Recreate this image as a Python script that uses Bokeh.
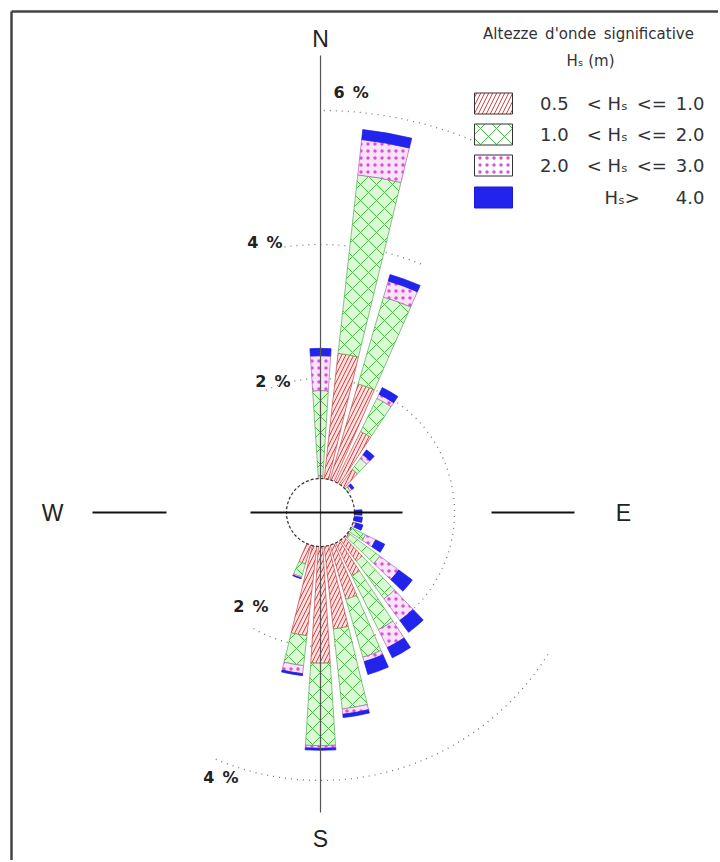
import numpy as np
from bokeh.plotting import figure
from bokeh.models import Range1d, ColumnDataSource
from bokeh.core.properties import value
from bokeh.embed import file_html
from bokeh.resources import INLINE

# ---------------- data (percent of occurrences per direction sector) ----------------
directions = [0, 10, 20, 30, 40, 50, 60, 70, 80, 90, 100, 110, 120, 130, 140, 150, 160, 170, 180, 190, 200]
hs_05_10 = [0.55, 2.39, 2.00, 1.35, 0.80, 0.45, 0.35, 0.30, 0.30, 0.40, 0.40, 0.45, 0.50, 0.55, 0.90, 1.05, 1.35, 1.75, 2.25, 1.85, 0.80]
hs_10_20 = [1.27, 2.68, 1.35, 0.55, 0.20, 0.10, 0.05, 0.05, 0.05, 0.05, 0.05, 0.05, 0.25, 0.55, 0.70, 0.90, 0.90, 1.20, 1.23, 0.45, 0.20]
hs_20_30 = [0.52, 0.53, 0.25, 0.07, 0.07, 0.03, 0.02, 0.02, 0.03, 0.05, 0.05, 0.05, 0.17, 0.35, 0.40, 0.30, 0.07, 0.08, 0.04, 0.12, 0.02]
hs_gt_30 = [0.11, 0.15, 0.10, 0.11, 0.09, 0.04, 0.03, 0.03, 0.04, 0.12, 0.13, 0.11, 0.15, 0.25, 0.22, 0.17, 0.20, 0.05, 0.03, 0.03, 0.01]

SP = "\u2002"
class_labels = ["0.5" + SP + SP + "< Hₛ" + SP + "<=" + SP + "1.0",
                "1.0" + SP + SP + "< Hₛ" + SP + "<=" + SP + "2.0",
                "2.0" + SP + SP + "< Hₛ" + SP + "<=" + SP + "3.0",
                "Hₛ>" + SP * 4 + "4.0"]
legend_title = "Altezze" + SP + "d'onde" + SP + "significative"
legend_unit = "Hₛ (m)"
ring_labels = ["2 %", "4 %", "6 %"]
compass = ["N", "E", "S", "W"]

# ---------------- geometry ----------------
K = 67.0           # pixels per percent
CX, CY = 320, 512  # centre in page pixels
W, H = 718, 860


def px(X):
    return (X - CX) / K


def py(Y):
    return (CY - Y) / K


p = figure(width=W, height=H, output_backend="svg", toolbar_location=None,
           x_range=Range1d(px(0), px(W)), y_range=Range1d(py(H), py(0)),
           min_border=0, outline_line_color=None)
p.axis.visible = False
p.grid.visible = False
p.background_fill_color = "white"
p.border_fill_color = "white"

# frame
p.line([px(11), px(11)], [py(11), py(900)], line_color="#444444", line_width=2.5)
p.line([px(11), px(730)], [py(11), py(11)], line_color="#444444", line_width=2.5)

# dotted rings (partial arcs)
ring_arcs = [(2, 335, 210), (4, 352, 22), (4, 122, 203), (6, 0, 22)]
for val, b1, b2 in ring_arcs:
    p.arc(x=0, y=0, radius=val, start_angle=90 - b2, end_angle=90 - b1,
          start_angle_units="deg", end_angle_units="deg", direction="anticlock",
          line_color="#777777", line_width=1.3, line_dash="1 5")

# stacked wedges
styles = [
    dict(fill_color="#ffe3e3", hatch_pattern="/", hatch_color="#e23a3a", hatch_scale=8, hatch_weight=1.0, line_color="#c04040"),
    dict(fill_color="#dcf8d4", hatch_pattern="x", hatch_color="#3fbf3f", hatch_scale=16, hatch_weight=1.0, line_color="#55aa55"),
    dict(fill_color="#fbe2fb", hatch_pattern=".", hatch_color="#d455d4", hatch_scale=7, hatch_weight=1.0, line_color="#b060b0"),
    dict(fill_color="#2323ee", hatch_pattern=None, line_color="#1a1add"),
]
classes = [np.array(hs_05_10), np.array(hs_10_20), np.array(hs_20_30), np.array(hs_gt_30)]
bear = np.array(directions, dtype=float)
half = 3.7
start = np.radians(90 - bear - half)
end = np.radians(90 - bear + half)
inner = np.zeros(len(bear))
for vals, st in zip(classes, styles):
    outer = inner + vals
    src = ColumnDataSource(dict(x=np.zeros(len(bear)), y=np.zeros(len(bear)), inner=inner.copy(),
                                outer=outer.copy(), s=start, e=end))
    kw = dict(st)
    if kw.get("hatch_pattern") is None:
        kw.pop("hatch_pattern")
    p.annular_wedge(x="x", y="y", inner_radius="inner", outer_radius="outer", start_angle="s", end_angle="e",
                    source=src, line_width=0.7, **kw)
    inner = outer

# calm circle
p.circle(x=0, y=0, radius=34 / K, fill_color="white", line_color="#333333", line_width=1.2, line_dash="3 2")

# compass lines
p.line([0, 0], [py(55), py(812)], line_color="#555555", line_width=1.2)
for X1, X2 in [(92, 166), (250, 402), (491, 574)]:
    p.line([px(X1), px(X2)], [0, 0], line_color="#111111", line_width=2)

# compass letters
cfont = value("Liberation Sans")
p.text(x=[0, px(623), 0, px(52)], y=[py(38), 0, py(838), 0], text=compass, text_font=cfont,
       text_font_size="23px", text_color="#222222", text_align="center", text_baseline="middle")

# ring labels
lab_x = [px(290), px(282), px(333), px(268), px(238)]
lab_y = [py(381), py(242), py(92), py(606), py(777)]
lab_t = [ring_labels[0], ring_labels[1], ring_labels[2], ring_labels[0], ring_labels[1]]
lab_t = [t.replace(" ", SP) for t in lab_t]
lab_al = ["right", "right", "left", "right", "right"]
p.text(x=lab_x, y=lab_y, text=lab_t, text_align=lab_al, text_baseline="middle",
       text_font=value("DejaVu Sans"), text_font_size="16px", text_font_style="bold", text_color="#222222")

# legend
lfont = value("DejaVu Sans")
p.text(x=[px(588)], y=[py(33)], text=[legend_title], text_align="center", text_baseline="middle",
       text_font=lfont, text_font_size="15px", text_color="#333333")
p.text(x=[px(590)], y=[py(60)], text=[legend_unit], text_align="center", text_baseline="middle",
       text_font=lfont, text_font_size="15px", text_color="#333333")
row_Y = [103, 134, 165, 197]
for i, (lab, st) in enumerate(zip(class_labels, styles)):
    kw = dict(st)
    if kw.get("hatch_pattern") is None:
        kw.pop("hatch_pattern")
    if i < 3:
        kw["fill_color"] = "white"
        kw["line_color"] = "#333333"
    p.rect(x=[px(493)], y=[py(row_Y[i])], width=38 / K, height=21 / K, line_width=1.0, **kw)
    p.text(x=[px(704)], y=[py(row_Y[i])], text=[lab], text_align="right", text_baseline="middle",
           text_font=lfont, text_font_size="18px", text_color="#333333")

open("out.html", "w").write(file_html(p, INLINE))
